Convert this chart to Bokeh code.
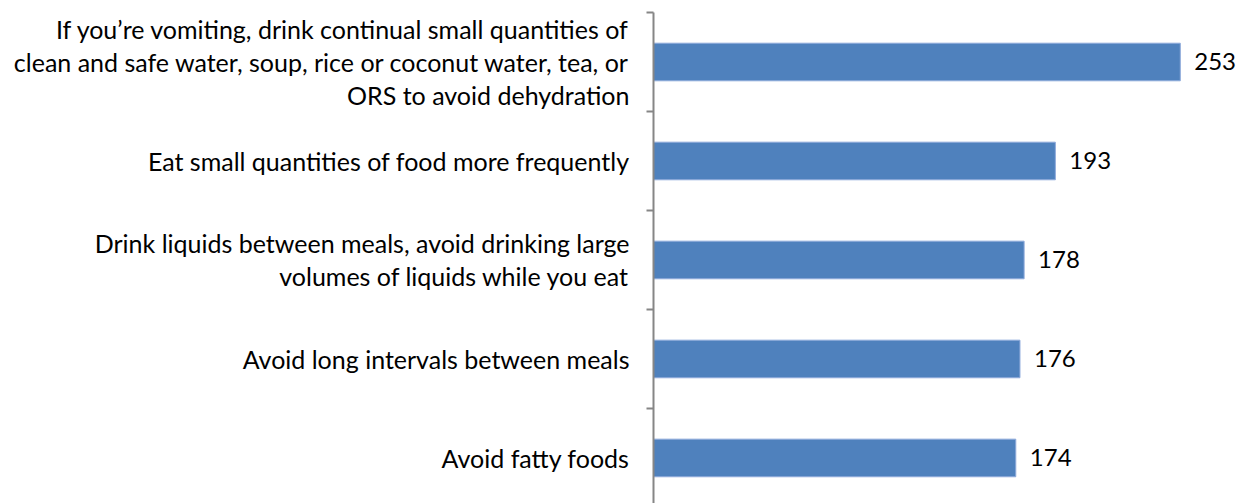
from bokeh.plotting import figure
from bokeh.models import Range1d, FixedTicker, ColumnDataSource
from bokeh.core.properties import value
from bokeh.embed import file_html
from bokeh.resources import INLINE

categories = [
    "If you\u2019re vomiting, drink continual small quantities of\nclean and safe water, soup, rice or coconut water, tea, or\nORS to avoid dehydration",
    "Eat small quantities of food more frequently",
    "Drink liquids between meals, avoid drinking large\nvolumes of liquids while you eat",
    "Avoid long intervals between meals",
    "Avoid fatty foods",
]
counts = [253, 193, 178, 176, 174]
count_labels = [str(v) for v in counts]

n = len(categories)
ypos = [n - i - 0.5 for i in range(n)]
boundaries = [float(k) for k in range(n + 1)]

FONT = "Lato"

src = ColumnDataSource(dict(y=ypos, v=counts, t=count_labels))

p = figure(width=1236, height=503, output_backend="svg", toolbar_location=None,
           x_range=Range1d(0, 280), y_range=Range1d(0.04, n),
           min_border_left=653, min_border_right=0, min_border_top=12, min_border_bottom=0,
           outline_line_color=None, background_fill_color="white", border_fill_color="white")

p.hbar(y="y", right="v", left=0, height=0.38, source=src,
       fill_color="#4F81BD", line_color="#8EAADB", line_width=1)

p.text(x="v", y="y", text="t", source=src, x_offset=14, text_baseline="middle",
       text_align="left", text_font=value(FONT), text_font_size="24px", text_color="#000000")

p.xaxis.visible = False
p.xgrid.visible = False
p.ygrid.visible = False

ax = p.yaxis[0]
ax.ticker = FixedTicker(ticks=ypos, minor_ticks=boundaries)
ax.major_label_overrides = {y: c for y, c in zip(ypos, categories)}
ax.major_tick_line_color = None
ax.major_tick_out = 0
ax.major_tick_in = 0
ax.minor_tick_line_color = "#868686"
ax.minor_tick_line_width = 2
ax.minor_tick_out = 7
ax.minor_tick_in = 0
ax.axis_line_color = "#868686"
ax.axis_line_width = 2
ax.major_label_standoff = 17
ax.major_label_text_font = FONT
ax.major_label_text_font_size = "25px"
ax.major_label_text_line_height = 1.1
ax.major_label_text_color = "#000000"

open("out.html", "w").write(file_html(p, INLINE))
